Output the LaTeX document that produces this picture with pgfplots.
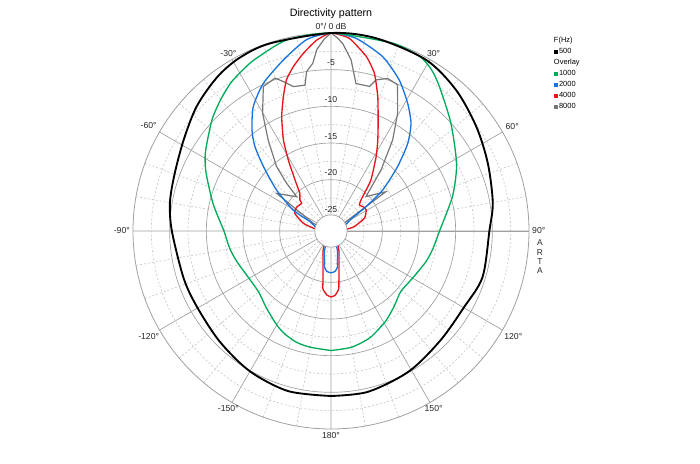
\documentclass[border=0pt]{standalone}
\usepackage{fontspec}
\setmainfont{Liberation Sans}
\usepackage{pgfplots}
\pgfplotsset{compat=1.18}
\usepackage{pgfplotstable}
\usepgfplotslibrary{polar}

\definecolor{c500}{RGB}{0,0,0}
\definecolor{c1000}{RGB}{0,172,90}
\definecolor{c2000}{RGB}{25,115,220}
\definecolor{c4000}{RGB}{232,20,28}
\definecolor{c8000}{RGB}{120,120,120}
\definecolor{gridmaj}{RGB}{160,160,160}
\definecolor{gridmin}{RGB}{200,200,200}

% angle a: degrees, clockwise from front (top); db: level re. 0 dB
\pgfplotstableread{
a db
-180 -4.5
-165 -4.4
-150 -4.9
-135 -5.6
-120 -6.0
-108 -5.9
-90 -5.3
-80 -4.7
-70 -4.3
-58 -3.35
-47 -2.0
-36.5 -0.9
-28 -0.3
-18 -0.1
0 0
13 0
29 -0.3
41.6 -1.3
54.3 -2.6
66.6 -3.7
80 -4.6
90 -5.4
107 -5.4
120 -6.1
135 -5.9
151 -5.1
167 -4.5
180 -4.5
}\tblblack

\pgfplotstableread{
a db
-180 -10.7
-170 -10.9
-163 -11.1
-156 -11.6
-150 -12.2
-140 -13.3
-130 -14.1
-117 -14.0
-108 -13.5
-100 -13.0
-90 -12.4
-77 -10.5
-65 -8.2
-58 -6.8
-47 -4.8
-40 -3.6
-34 -2.6
-29 -2.0
-24 -1.4
-13 -0.25
0 0
18 -0.05
27 -0.3
32 -1.1
37 -2.4
48 -5.0
62 -7.6
74 -9.75
90 -12.2
100 -12.9
108 -13.4
120 -14.15
131 -14.4
140 -13.6
149 -12.6
160 -11.5
170 -10.9
180 -10.7
}\tblgreen

\pgfplotstableread{
a db
-180 -21.3
-174.4 -21.45
-169.8 -22.0
-167.8 -22.8
-162 -24.1
-157 -25.5
-150 -26
-90 -26
-80 -25.2
-75 -24.8
-66 -23.9
-61 -21.1
-53 -17.7
-46.4 -14.3
-42 -11.5
-38 -9.5
-32 -7.0
-24.6 -4.85
-15.6 -2.8
-7.3 -0.7
0 0
7.4 -0.5
16.5 -2.2
24.3 -4.4
31 -6.7
36.6 -8.7
41.2 -11.1
46 -14.4
51.6 -18.0
55.2 -21.2
60 -24.0
65 -24.6
70 -26
150 -26
157 -25.5
162 -24.1
167.8 -22.8
169.8 -22.0
174.4 -21.45
180 -21.3
}\tblblue

\pgfplotstableread{
a db
-180 -18.0
-176.4 -18.25
-172.1 -19.0
-170.9 -20.1
-168.7 -21.4
-165 -22.8
-158 -24.1
-152 -25.2
-145 -26
-90 -26
-84 -25.2
-81 -24.6
-74.5 -23.1
-64 -21.5
-55 -21.3
-46.7 -21.5
-45 -21.0
-39.5 -20.3
-35.2 -18.5
-31 -15.7
-27.6 -13.0
-23.3 -10.0
-19.5 -7.55
-16.4 -5.5
-12.9 -4.0
-8.9 -2.5
-4.3 -0.9
0 0
5.4 -0.6
11.4 -2.7
15.4 -4.7
19.2 -7.6
23.7 -11.0
27.5 -13.2
31.2 -15.1
38.1 -18.2
44 -21.1
47.5 -21.75
53 -21.5
59 -21.4
69 -22.1
79.5 -23.8
84 -25
90 -26
145 -26
152 -25.2
158 -24.1
165 -22.8
168.7 -21.4
171 -20.1
172.5 -19.0
176.4 -18.2
180 -18.0
}\tblred

\pgfplotstableread{
a db
-180 -26
-70 -26
-66.5 -24.4
-55.3 -18.0
-45 -20.4
-42.9 -18.1
-40.2 -15.5
-34.6 -11.9
-30.1 -8.4
-25.1 -5.25
-20.1 -4.8
-17.7 -5.6
-14.6 -6.65
-10.1 -6.8
-8.7 -5.0
-6.2 -4.0
-4.5 -2.2
-2 -0.8
0 0
1.8 -0.6
3.6 -1.4
6.7 -3.5
9.6 -6.6
14.9 -6.6
16.6 -5.5
20.4 -4.8
24.5 -5.1
29.5 -8.55
34.1 -12.0
39.3 -16.2
45.5 -20.3
54.4 -17.8
58 -24.6
62 -26
180 -26
}\tblgray

\begin{document}
\begin{tikzpicture}
\path[use as bounding box] (-248.25pt,-174.75pt) rectangle (276.75pt,173.25pt);
\begin{polaraxis}[
  at={(0pt,0pt)}, anchor=origin,
  scale only axis, width=297pt, height=297pt,
  xmin=0, xmax=360, ymin=0, ymax=27,
  xtick={0,30,...,330},
  xticklabels={90°,60°,30°,0°/ 0 dB,-30°,-60°,-90°,-120°,-150°,180°,150°,120°},
  minor x tick num=2,
  ytick={2,7,12,17,22},
  minor ytick={4.5,9.5,14.5,19.5,24.5},
  yticklabels={},
  grid=both,
  major grid style={gridmaj, line width=0.5pt},
  minor grid style={gridmin, line width=0.5pt, dash pattern=on 1.5pt off 1.5pt},
  axis line style={gridmaj, line width=0.6pt},
  major tick length=0pt, minor tick length=0pt,
  xticklabel style={font=\fontsize{6.5}{7}\selectfont, text=black!85,
    inner sep=2.2pt,
    /utils/exec={\pgfmathtruncatemacro\labanc{mod(\tick+180,360)}},
    anchor=\labanc},
  clip=false,
  legend style={at={(1.05,1.0)}, anchor=north west, draw=none, fill=none,
    font=\fontsize{5.6}{6}\selectfont, row sep=1.4pt, nodes={inner sep=0.7pt},
    /tikz/every even column/.append style={column sep=0pt}},
  legend cell align=left,
  legend image code/.code={\fill[#1] (0.6pt,-1.1pt) rectangle (2.8pt,1.1pt);},
]
\addlegendimage{empty legend}\addlegendentry{\hspace{-3pt}F(Hz)}
\addlegendimage{c500}\addlegendentry{\hspace{0.8pt}500}
\addlegendimage{empty legend}\addlegendentry{\hspace{-3pt}Overlay}
\addlegendimage{c1000}\addlegendentry{\hspace{0.8pt}1000}
\addlegendimage{c2000}\addlegendentry{\hspace{0.8pt}2000}
\addlegendimage{c4000}\addlegendentry{\hspace{0.8pt}4000}
\addlegendimage{c8000}\addlegendentry{\hspace{0.8pt}8000}

\addplot[c8000, line width=0.9pt, forget plot]
  table[x expr=90-\thisrow{a}, y expr=\thisrow{db}+27] {\tblgray};
\addplot[c4000, line width=1pt, smooth, tension=0.3, forget plot]
  table[x expr=90-\thisrow{a}, y expr=\thisrow{db}+27] {\tblred};
\addplot[c2000, line width=1pt, smooth, tension=0.4, forget plot]
  table[x expr=90-\thisrow{a}, y expr=\thisrow{db}+27] {\tblblue};
\addplot[c1000, line width=1pt, smooth, tension=0.4, forget plot]
  table[x expr=90-\thisrow{a}, y expr=\thisrow{db}+27] {\tblgreen};
\addplot[c500, line width=1.4pt, smooth, tension=0.5, forget plot]
  table[x expr=90-\thisrow{a}, y expr=\thisrow{db}+27] {\tblblack};

\draw[gridmaj, fill=white, line width=0.5pt] (axis cs:0,0) circle[radius=12.1pt];

\begin{scope}[every node/.style={font=\fontsize{6.5}{7}\selectfont, text=black!85}]
\node at (axis cs:90,22) [yshift=5pt] {-5};
\node at (axis cs:90,17) [yshift=5pt] {-10};
\node at (axis cs:90,12) [yshift=5pt] {-15};
\node at (axis cs:90,7) [yshift=5pt] {-20};
\node at (axis cs:90,2) [yshift=5pt] {-25};
\end{scope}
\end{polaraxis}
\node[font=\fontsize{8}{9}\selectfont] at (0pt,163pt) {Directivity pattern};
\node[font=\fontsize{6.3}{7}\selectfont, align=center, text=black!85] at (156.75pt,-19.5pt) {A\\R\\T\\A};
\end{tikzpicture}
\end{document}
